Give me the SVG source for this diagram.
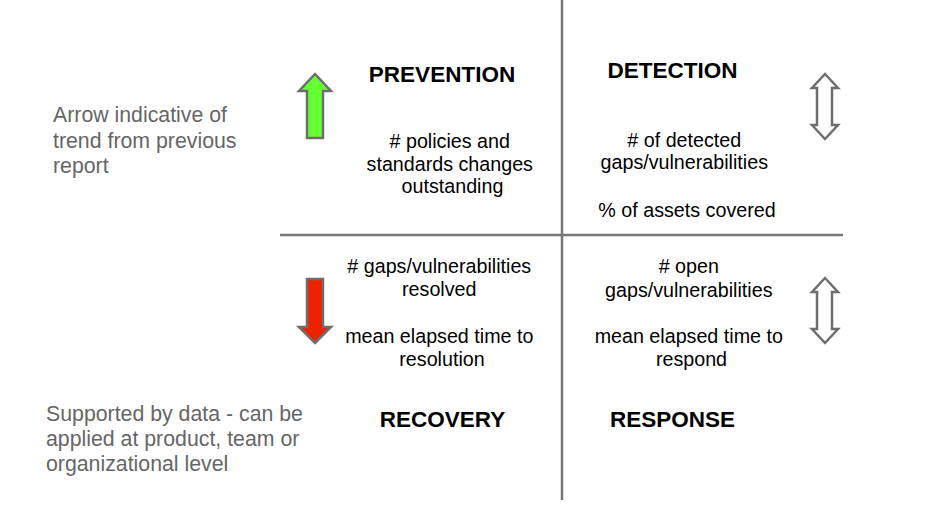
<svg xmlns="http://www.w3.org/2000/svg" width="944" height="520" viewBox="0 0 944 520">
<style>
  .note { font-family: "Liberation Sans", Arial, sans-serif; font-size: 21.3px; fill: #666666; }
  .title { font-family: "Liberation Sans", Arial, sans-serif; font-size: 22.5px; font-weight: bold; fill: #000000; text-anchor: middle; }
  .metric { font-family: "Liberation Sans", Arial, sans-serif; font-size: 19.7px; fill: #000000; text-anchor: middle; }
  .axis { stroke: #777777; stroke-width: 2.5; fill: none; }
  .arrow { stroke: #6e6e6e; stroke-width: 2.5; stroke-linejoin: miter; }
</style>
<rect width="944" height="520" fill="#ffffff"/>
<g id="connectors">
  <line class="axis" x1="562" y1="0" x2="562" y2="500"/>
  <line class="axis" x1="280" y1="235" x2="843" y2="235"/>
</g>
<g id="legend-trend">
  <text class="note" x="53" y="122">Arrow indicative of</text>
  <text class="note" x="53" y="148">trend from previous</text>
  <text class="note" x="53" y="173">report</text>
</g>
<g id="legend-data">
  <text class="note" x="46" y="421">Supported by data - can be</text>
  <text class="note" x="46" y="446">applied at product, team or</text>
  <text class="note" x="46" y="471">organizational level</text>
</g>
<g id="prevention">
  <polygon class="arrow" fill="#66ff33" points="315,74 331,91 323,91 323,138 307,138 307,91 299,91"/>
  <text class="title" x="442" y="82">PREVENTION</text>
  <text class="metric" x="452.5" y="148">
    <tspan x="452.5"># policies and</tspan>
    <tspan x="452.5" dy="23">standards changes</tspan>
    <tspan x="452.5" dy="22">outstanding</tspan>
  </text>
</g>
<g id="detection">
  <polygon class="arrow" fill="#ffffff" points="825,74 838,88 832,88 832,125 838,125 825,139 812,125 817,125 817,88 812,88"/>
  <text class="title" x="672.5" y="78">DETECTION</text>
  <text class="metric" x="687" y="147">
    <tspan x="687"># of detected</tspan>
    <tspan x="687" dy="22">gaps/vulnerabilities</tspan>
    <tspan x="687" dy="48">% of assets covered</tspan>
  </text>
</g>
<g id="recovery">
  <polygon class="arrow" fill="#ee2200" points="307,279 323,279 323,327 331,327 315,343 299,327 307,327"/>
  <text class="title" x="442.5" y="427">RECOVERY</text>
  <text class="metric" x="442" y="273">
    <tspan x="442"># gaps/vulnerabilities</tspan>
    <tspan x="442" dy="23">resolved</tspan>
    <tspan x="442" dy="47">mean elapsed time to</tspan>
    <tspan x="442" dy="23">resolution</tspan>
  </text>
</g>
<g id="response">
  <polygon class="arrow" fill="#ffffff" points="825,278 838,292 832,292 832,329 838,329 825,343 812,329 817,329 817,292 812,292"/>
  <text class="title" x="672.5" y="427">RESPONSE</text>
  <text class="metric" x="691.5" y="273">
    <tspan x="691.5"># open</tspan>
    <tspan x="691.5" dy="24">gaps/vulnerabilities</tspan>
    <tspan x="691.5" dy="46">mean elapsed time to</tspan>
    <tspan x="691.5" dy="23">respond</tspan>
  </text>
</g>
</svg>
